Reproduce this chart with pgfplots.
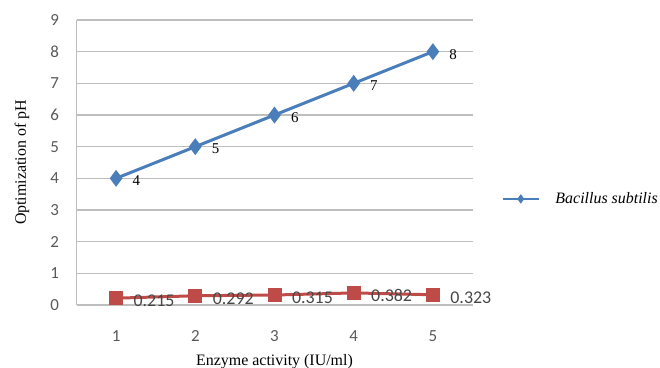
\documentclass[border=0pt]{standalone}
\usepackage{fontspec}
\setmainfont{Liberation Serif}
\newfontfamily\carlito{Carlito}
\usepackage{pgfplots}
\pgfplotsset{compat=1.18}
\definecolor{bblue}{RGB}{74,126,187}
\definecolor{rred}{RGB}{190,75,72}
\definecolor{tickgray}{RGB}{89,89,89}
\definecolor{gridgray}{RGB}{190,190,190}
\begin{document}
\begin{tikzpicture}
\useasboundingbox (0,0) rectangle (660bp,368bp);
\begin{axis}[
  at={(76.5bp,63bp)}, anchor=south west,
  scale only axis, width=396bp, height=285bp,
  xmin=0.5, xmax=5.5, ymin=0, ymax=9,
  xtick={1,2,3,4,5}, ytick={0,1,2,3,4,5,6,7,8,9},
  axis lines*=left,
  axis line style={gridgray, line width=1.2bp},
  ymajorgrids, grid style={gridgray, line width=1.2bp},
  major tick length=0pt,
  /pgf/number format/assume math mode=true,
  ticklabel style={font=\carlito\fontsize{17}{17}\selectfont, text=tickgray},
  xticklabel style={yshift=-22bp},
  yticklabel style={xshift=-14bp},
  xlabel={Enzyme activity (IU/ml)},
  ylabel={Optimization of pH},
  label style={font=\fontsize{16}{16}\selectfont},
  xlabel style={at={(axis description cs:0.5,-0.198)}, anchor=center},
  ylabel style={at={(axis description cs:-0.138,0.5)}, anchor=center},
  clip=false,
  legend style={at={(axis cs:5.87,3.35)}, anchor=west, draw=none, fill=none,
    font=\itshape\fontsize{16}{16}\selectfont, inner sep=0pt,
    /tikz/every odd column/.append style={column sep=14bp}},
  legend image code/.code={\draw[mark repeat=2,mark phase=2,#1,line width=1.5bp,mark size=3.5bp] plot coordinates {(0bp,0bp) (18bp,0bp) (36bp,0bp)};},
]
\addplot[color=bblue, line width=3bp, mark=diamond*, mark size=6bp,
  point meta=explicit symbolic, nodes near coords,
  nodes near coords style={anchor=west, xshift=15bp, yshift=-2.5bp, inner sep=0pt,
    font=\fontsize{15}{15}\selectfont, text=black}]
  coordinates {(1,4) [4] (2,5) [5] (3,6) [6] (4,7) [7] (5,8) [8]};
\addlegendentry{Bacillus subtilis}
\addplot[color=rred, line width=3bp, mark=square*, mark size=5.5bp, forget plot,
  point meta=explicit symbolic, nodes near coords,
  nodes near coords style={anchor=west, xshift=16bp, yshift=-3bp, inner sep=0pt,
    font=\carlito\fontsize{18}{18}\selectfont, text=tickgray!80!black}]
  coordinates {(1,0.215) [0.215] (2,0.292) [0.292] (3,0.315) [0.315] (4,0.382) [0.382] (5,0.323) [0.323]};
\end{axis}
\end{tikzpicture}
\end{document}
